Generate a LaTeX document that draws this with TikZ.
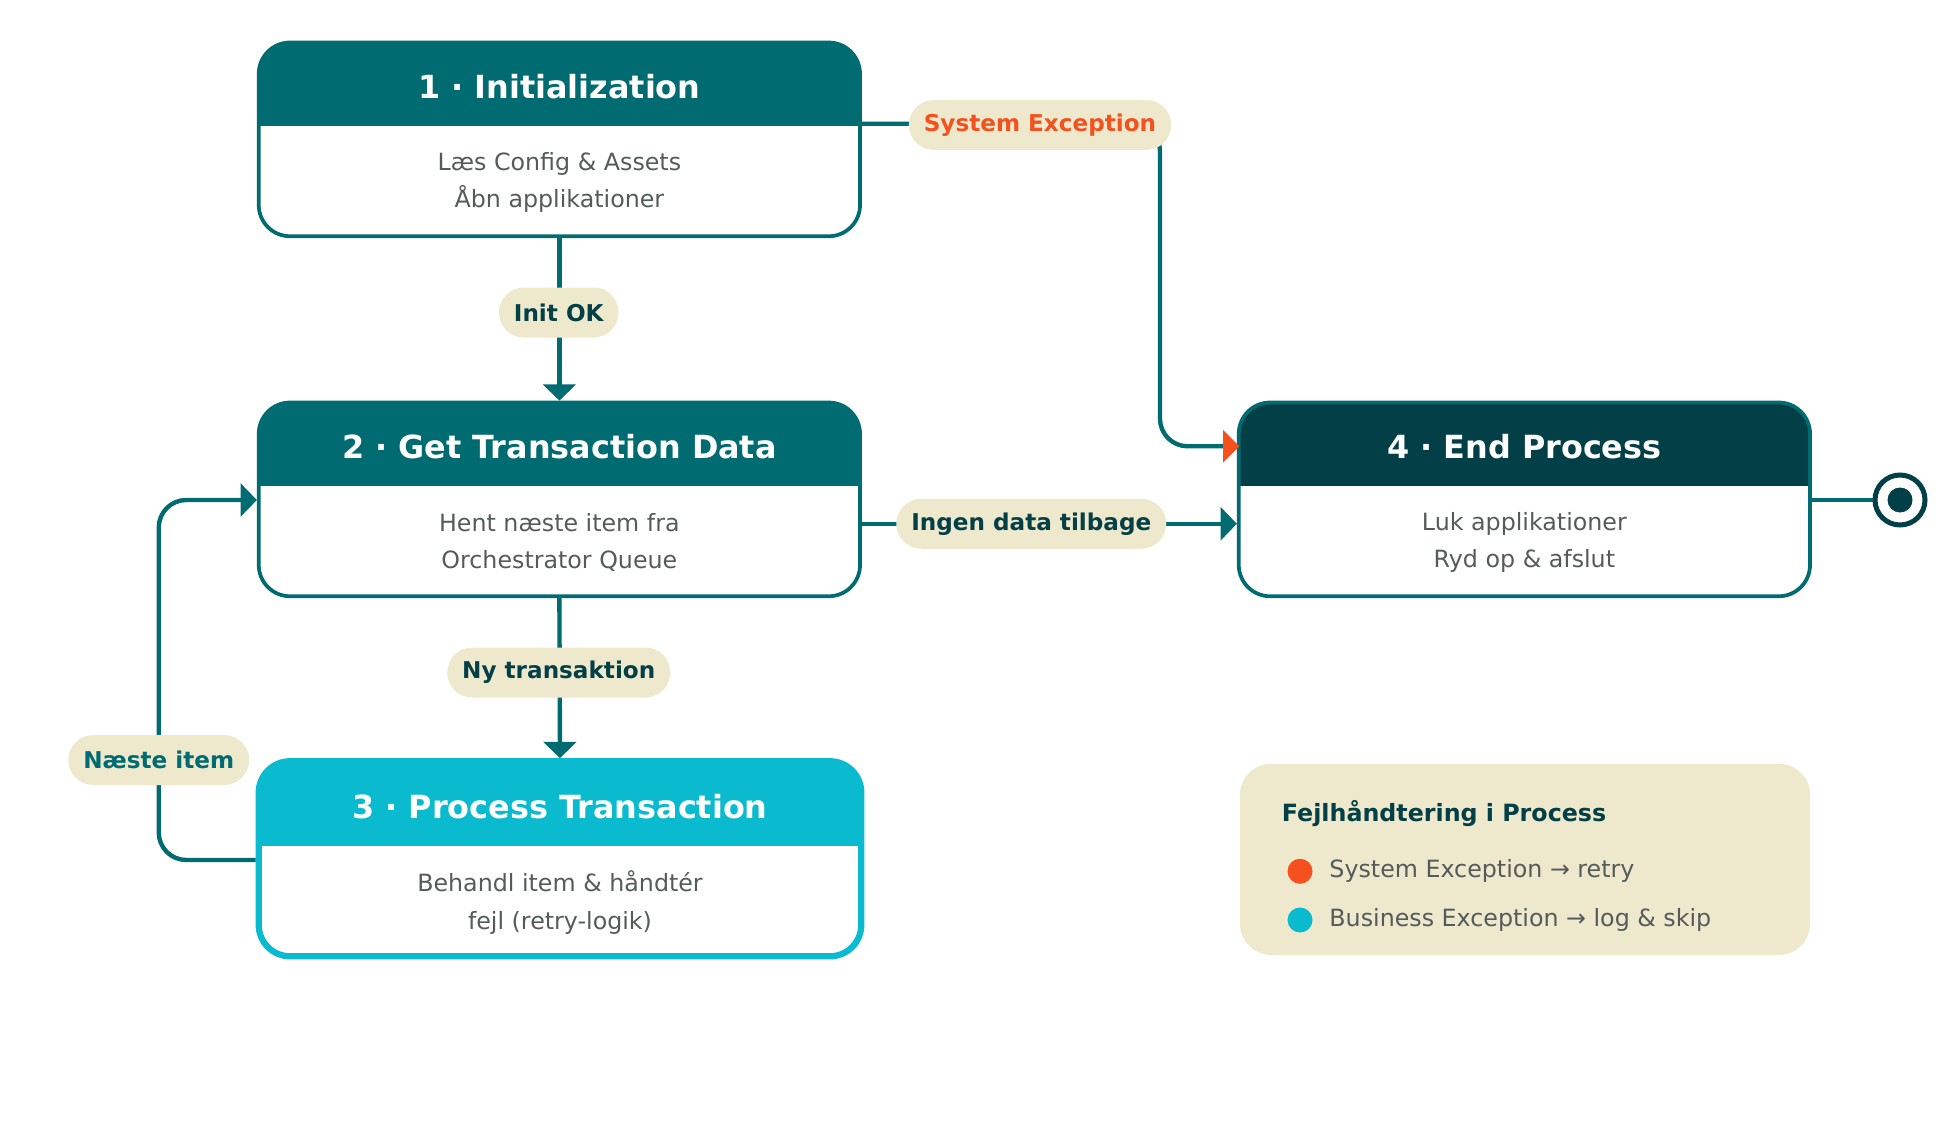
\documentclass[tikz,border=0pt]{standalone}
\usepackage{fontspec}
\setmainfont{DejaVu Sans}
\usetikzlibrary{arrows.meta}
\definecolor{teal1}{HTML}{006B70}
\definecolor{dark1}{HTML}{033F47}
\definecolor{cyan1}{HTML}{0ABBD0}
\definecolor{sand}{HTML}{EEE8CC}
\definecolor{red1}{HTML}{F4511E}
\definecolor{txt}{HTML}{555A5A}
\tikzset{
 ttl/.style={text=white,font=\fontsize{25.5}{30}\selectfont\bfseries},
 bdy/.style={text=txt,font=\fontsize{19}{30}\selectfont,align=center},
 pill/.style={fill=sand,rounded corners=20,minimum height=40,inner xsep=12,font=\fontsize{18.5}{22}\selectfont\bfseries,text=dark1},
 conn/.style={draw=teal1,line width=3.5,rounded corners=22},
 arr/.style={-{Triangle[length=13,width=26,fill=teal1]}},
 frame/.style={draw=teal1,line width=3,rounded corners=25,minimum width=481,minimum height=155},
}
\begin{document}
\begin{tikzpicture}[x=1pt,y=-1pt]
\useasboundingbox (0,0) rectangle (1568,899);
% box1
\begin{scope}\clip[rounded corners=25] (207,34) rectangle (688,189);
\fill[teal1] (207,34) rectangle (688,101);\end{scope}
\node[frame] (b1) at (447.5,111.5) {};
\node[ttl] (t1) at (447.5,69) {1 · Initialization};
\node[bdy] (d1) at (447.5,146) {Læs Config \& Assets\\Åbn applikationer};
% box2
\begin{scope}\clip[rounded corners=25] (207,322) rectangle (688,477);
\fill[teal1] (207,322) rectangle (688,389);\end{scope}
\node[frame] (b2) at (447.5,399.5) {};
\node[ttl] (t2) at (447.5,357) {2 · Get Transaction Data};
\node[bdy] (d2) at (447.5,434) {Hent næste item fra\\Orchestrator Queue};
% box3
\begin{scope}\clip[rounded corners=25] (207,609) rectangle (689,765);
\fill[cyan1] (207,609) rectangle (689,677);\end{scope}
\node[frame,draw=cyan1,line width=5,minimum width=482,minimum height=156] (b3) at (448,687) {};
\node[ttl] (t3) at (448,645) {3 · Process Transaction};
\node[bdy] (d3) at (448,722) {Behandl item \& håndtér\\fejl (retry-logik)};
% box4
\begin{scope}\clip[rounded corners=25] (991,322) rectangle (1448,477);
\fill[dark1] (991,322) rectangle (1448,389);\end{scope}
\node[frame,minimum width=457] (b4) at (1219.5,399.5) {};
\node[ttl] (t4) at (1219.5,357) {4 · End Process};
\node[bdy] (d4) at (1219.5,434) {Luk applikationer\\Ryd op \& afslut};
% end state
\node[circle,draw=dark1,line width=4,minimum size=40,inner sep=0] (end) at (1520,400) {};
\fill[dark1] (end.center) circle (10);
% connectors
\draw[conn,arr] (b1.south) -- (b2.north);
\node[pill] (l1) at (447,250) {Init OK};
\draw[conn,arr] (b2.south) -- (b3.north);
\node[pill] (l2) at (447,538) {Ny transaktion};
\coordinate (c4in) at (b4.west|-0,419);
\draw[conn,arr] (b2.east|-c4in) -- (c4in);
\node[pill] (l3) at (825,419) {Ingen data tilbage};
\coordinate (sx1) at (928,99);
\coordinate (sx2) at (928,357);
\draw[conn] (b1.east|-sx1) -- (sx1) -- (sx2) -- (b4.west|-sx2);
\fill[red1] (b4.west|-sx2) ++(2,0) -- ++(-13,-13) -- ++(0,26) -- cycle;
\node[pill,text=red1] (l4) at (832,100) {System Exception};
\coordinate (n1) at (127,688);
\coordinate (n2) at (127,400);
\draw[conn,arr] (b3.west|-n1) -- (n1) -- (n2) -- (b2.west|-n2);
\node[pill,text=teal1] (l5) at (127,608) {Næste item};
\draw[draw=teal1,line width=3.5] (b4.east|-end) -- (end.west);
% legend
\node[fill=sand,rounded corners=25,minimum width=456,minimum height=153] (leg) at (1220,687.5) {};
\node[anchor=west,text=dark1,font=\fontsize{19}{22}\selectfont\bfseries] (lt) at (1022,651) {Fejlhåndtering i Process};
\fill[red1] (1040,697) circle (10);
\fill[cyan1] (1040,736) circle (10);
\node[anchor=west,text=txt,font=\fontsize{19}{22}\selectfont] (li1) at (1060,697) {System Exception → retry};
\node[anchor=west,text=txt,font=\fontsize{19}{22}\selectfont] (li2) at (1060,736) {Business Exception → log \& skip};
\end{tikzpicture}
\end{document}
